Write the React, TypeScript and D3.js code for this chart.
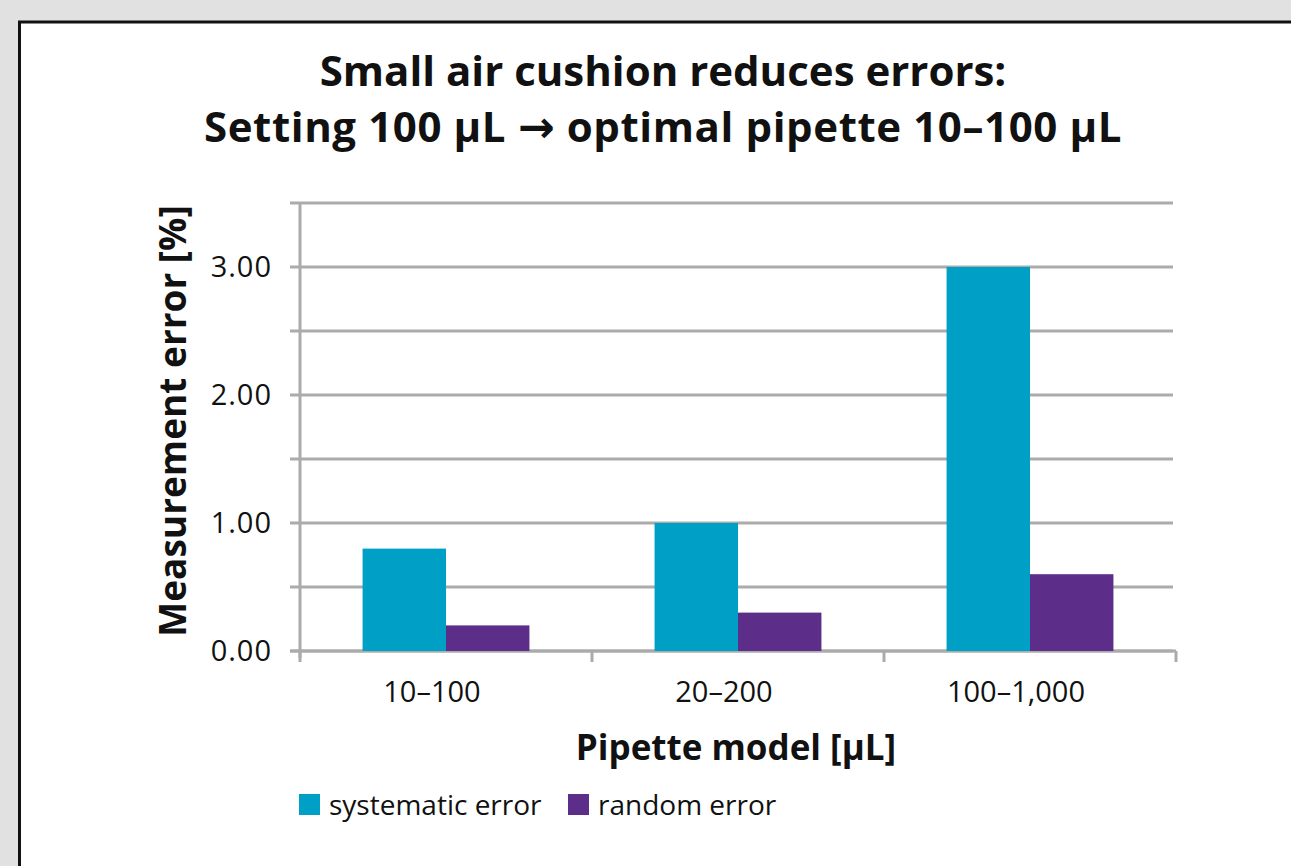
import React from "react";
import * as d3 from "d3";

const categories = ["10–100", "20–200", "100–1,000"];
const seriesNames = ["systematic error", "random error"];
const systematicError = [0.8, 1.0, 3.0];
const randomError = [0.2, 0.3, 0.6];
const yTickValues = [0, 0.5, 1, 1.5, 2, 2.5, 3, 3.5];
const yLabelValues = [0, 1, 2, 3];
const colors = ["#00a0c6", "#5c2e8a"];

const W = 1291;
const H = 866;
const FONT = "'Open Sans', 'Noto Sans', sans-serif";

export default function App() {
  const x0 = 300, x1 = 1176;
  const yScale = d3.scaleLinear().domain([0, 3.5]).range([651, 203]);
  const xBand = d3.scaleBand<string>().domain(categories).range([x0, x1]).paddingInner(0).paddingOuter(0);
  const inner = d3.scaleBand<string>().domain(seriesNames).range([0, xBand.bandwidth()]).paddingInner(0).paddingOuter(0.75);
  const series = [systematicError, randomError];
  const grid = "#ababab";

  return (
    <div style={{ position: "fixed", left: 0, top: 0, width: W, height: H }}>
      <svg width={W} height={H} style={{ display: "block" }}>
        <rect x={0} y={0} width={W} height={H} fill="#e1e1e1" />
        <rect x={19.5} y={22} width={W + 10} height={H + 10} fill="#ffffff" stroke="#111" strokeWidth={3} />
        <text x={663} y={86} textAnchor="middle" fontFamily={FONT} fontWeight={700} fontSize={42} fill="#111">
          Small air cushion reduces errors:
        </text>
        <text x={663} y={142} textAnchor="middle" fontFamily={FONT} fontWeight={700} fontSize={42} letterSpacing={0.6} fill="#111">
          Setting 100 µL <tspan fontFamily="'DejaVu Sans', sans-serif" fontSize={44}>→</tspan> optimal pipette 10–100 µL
        </text>
        {yTickValues.map((v) => (
          <line key={"g" + v} x1={290} x2={1173} y1={yScale(v)} y2={yScale(v)} stroke={grid} strokeWidth={3} />
        ))}
        <line x1={300} x2={300} y1={203} y2={658} stroke={grid} strokeWidth={3} />
        <line x1={290} x2={1176} y1={651} y2={651} stroke={grid} strokeWidth={3} />
        {[...categories.map((c) => xBand(c) as number), x1].map((x, i) => (
          <line key={"xt" + i} x1={x} x2={x} y1={651} y2={662} stroke={grid} strokeWidth={3} />
        ))}
        {categories.map((c, ci) =>
          series.map((s, si) => {
            const bx = (xBand(c) as number) + (inner(seriesNames[si]) as number);
            return (
              <rect key={c + si} x={bx} y={yScale(s[ci])} width={inner.bandwidth()} height={yScale(0) - yScale(s[ci])} fill={colors[si]} />
            );
          })
        )}
        {yLabelValues.map((v) => (
          <text key={"yl" + v} x={272} y={yScale(v)} dy="0.36em" textAnchor="end" fontFamily={FONT} fontSize={29} letterSpacing={1} fill="#111">
            {v.toFixed(2)}
          </text>
        ))}
        {categories.map((c) => (
          <text key={"xl" + c} x={(xBand(c) as number) + xBand.bandwidth() / 2 - 14} y={702} textAnchor="middle" fontFamily={FONT} fontSize={29} fill="#111">
            {c}
          </text>
        ))}
        <text x={736} y={760} textAnchor="middle" fontFamily={FONT} fontWeight={700} fontSize={35} fill="#111">
          Pipette model [µL]
        </text>
        <text transform={`translate(186,421) rotate(-90)`} textAnchor="middle" fontFamily={FONT} fontWeight={700} fontSize={37} fill="#111">
          Measurement error [%]
        </text>
        {seriesNames.map((n, i) => {
          const lx = i === 0 ? 299 : 568;
          return (
            <g key={n}>
              <rect x={lx} y={794} width={21} height={21} fill={colors[i]} />
              <text x={lx + 30} y={815} fontFamily={FONT} fontSize={28} fill="#111">
                {n}
              </text>
            </g>
          );
        })}
      </svg>
    </div>
  );
}
